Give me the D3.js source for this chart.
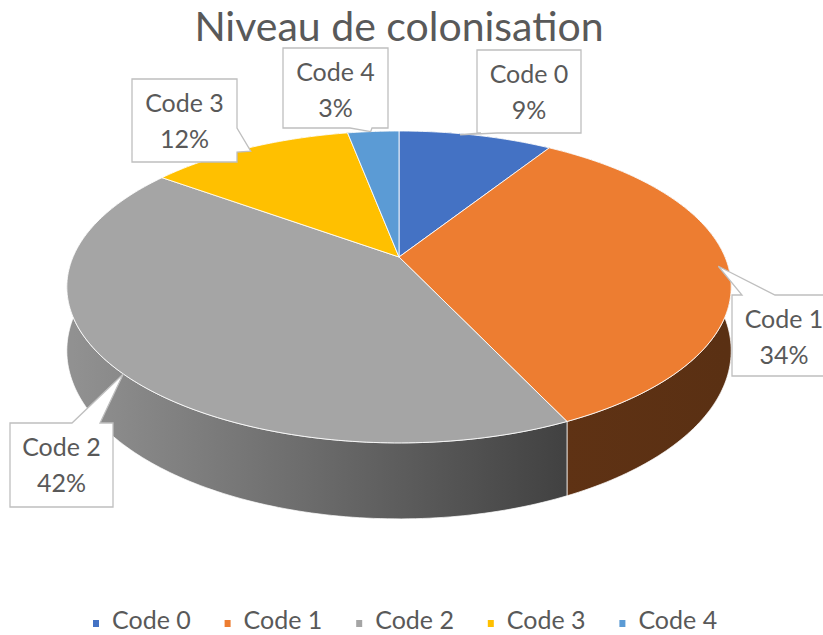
<!DOCTYPE html>
<html>
<head>
<meta charset="utf-8">
<script src="https://cdn.jsdelivr.net/npm/d3@7"></script>
<style>
  body { margin: 0; background: #fff; }
  text { font-family: Lato, "Noto Sans", sans-serif; fill: #595959; }
</style>
</head>
<body>
<script>
var width = 823, height = 635;

// data
var categories = ["Code 0", "Code 1", "Code 2", "Code 3", "Code 4"];
var values = [9, 34, 42, 12, 3];
var percentLabels = ["9%", "34%", "42%", "12%", "3%"];
var colors = ["#4472C4", "#ED7D31", "#A5A5A5", "#FFC000", "#5B9BD5"];
var title = "Niveau de colonisation";

// 3d pie geometry (perspective tilt)
var cx = 399, cy = 257, A = 326, B = 150.2, k = 0.192, depth = 61.4;

function proj(theta, r, dz) {
    var u = r * Math.sin(theta), v = r * Math.cos(theta);
    var d = 1 + k * v;
    return [cx + A * u / d, cy - B * v / d + (dz || 0) / d];
}

function arcPoints(a0, a1, dz) {
    var n = Math.max(2, Math.ceil((a1 - a0) / (Math.PI / 180)));
    return d3.range(n + 1).map(function (i) { return proj(a0 + (a1 - a0) * i / n, 1, dz); });
}

var svg = d3.select("body").append("svg")
    .attr("width", width)
    .attr("height", height);

var defs = svg.append("defs");

var pie = d3.pie().sort(null).value(function (d) { return d; });
var arcs = pie(values);

// side shading gradients
arcs.forEach(function (a, i) {
    var g = defs.append("linearGradient")
        .attr("id", "side" + i)
        .attr("gradientUnits", "userSpaceOnUse")
        .attr("x1", cx - A).attr("x2", cx + A).attr("y1", 0).attr("y2", 0);
    [[0, 0.88], [0.35, 0.66], [0.75, 0.40], [1, 0.38]].forEach(function (s) {
        var c = d3.rgb(colors[i]);
        g.append("stop").attr("offset", s[0])
            .attr("stop-color", d3.rgb(c.r * s[1], c.g * s[1], c.b * s[1]).formatHex());
    });
});

var line = d3.line();

// sides
var sides = svg.append("g").attr("class", "sides");
arcs.forEach(function (a, i) {
    var top = arcPoints(a.startAngle, a.endAngle, 0);
    var bot = arcPoints(a.startAngle, a.endAngle, depth).reverse();
    sides.append("path")
        .attr("d", line(top.concat(bot)) + "Z")
        .attr("fill", "url(#side" + i + ")")
        .attr("stroke", "#fff")
        .attr("stroke-opacity", 0.7)
        .attr("stroke-width", 1);
});

// tops
var tops = svg.append("g").attr("class", "tops");
arcs.forEach(function (a, i) {
    var pts = [[cx, cy]].concat(arcPoints(a.startAngle, a.endAngle, 0));
    tops.append("path")
        .attr("d", line(pts) + "Z")
        .attr("fill", colors[i])
        .attr("stroke", "#fff")
        .attr("stroke-opacity", 0.85)
        .attr("stroke-width", 1);
});

// title
svg.append("text")
    .attr("x", 399).attr("y", 41)
    .attr("text-anchor", "middle")
    .style("font-size", "41px")
    .text(title);

// data label callouts: box [x, y, w, h], side of wedge, wedge base, angle fraction of tip inside slice
var labelBoxes = [
    { box: [477, 50, 104, 83], side: "bottom", base: [481, 497], frac: 0.4, r: 0.99 },
    { box: [732, 295, 110, 81], side: "top", base: [742, 775], frac: 0.5, r: 0.97 },
    { box: [10, 423, 103, 84], side: "top", base: [72, 100], frac: 0.48, r: 1.0 },
    { box: [132, 79, 105, 83], side: "right", base: [128, 152], frac: 0.49, r: 0.97 },
    { box: [283, 48, 105, 80], side: "bottom", base: [350, 372], frac: 0.45, r: 1.0 }
];

function callout(b, tip, side, base) {
    var x0 = b[0], y0 = b[1], x1 = b[0] + b[2], y1 = b[1] + b[3];
    var p = [[x0, y0]];
    if (side === "top") p.push([base[0], y0], tip, [base[1], y0]);
    p.push([x1, y0]);
    if (side === "right") p.push([x1, base[0]], tip, [x1, base[1]]);
    p.push([x1, y1]);
    if (side === "bottom") p.push([base[1], y1], tip, [base[0], y1]);
    p.push([x0, y1]);
    return line(p) + "Z";
}

var labels = svg.append("g").attr("class", "labels");
arcs.forEach(function (a, i) {
    var L = labelBoxes[i];
    var theta = a.startAngle + (a.endAngle - a.startAngle) * L.frac;
    var tip = proj(theta, L.r, 0);
    labels.append("path")
        .attr("d", callout(L.box, tip, L.side, L.base))
        .attr("fill", "#fff")
        .attr("stroke", "#bfbfbf")
        .attr("stroke-width", 1.3);
    var tx = L.box[0] + L.box[2] / 2;
    if (i === 1) tx = L.box[0] + 52;
    var t = labels.append("text")
        .attr("text-anchor", "middle")
        .style("font-size", "25px");
    t.append("tspan").attr("x", tx).attr("y", L.box[1] + 33).text(categories[i]);
    t.append("tspan").attr("x", tx).attr("y", L.box[1] + 69).text(percentLabels[i]);
});

// legend
var legend = svg.append("g").attr("class", "legend")
    .selectAll("g").data(categories).enter().append("g")
    .attr("transform", function (d, i) { return "translate(" + (93 + i * 131.6) + ",0)"; });
legend.append("rect")
    .attr("x", 0).attr("y", 620).attr("width", 6).attr("height", 7)
    .attr("fill", function (d, i) { return colors[i]; });
legend.append("text")
    .attr("x", 19).attr("y", 629)
    .style("font-size", "25px")
    .text(function (d) { return d; });
</script>
</body>
</html>
